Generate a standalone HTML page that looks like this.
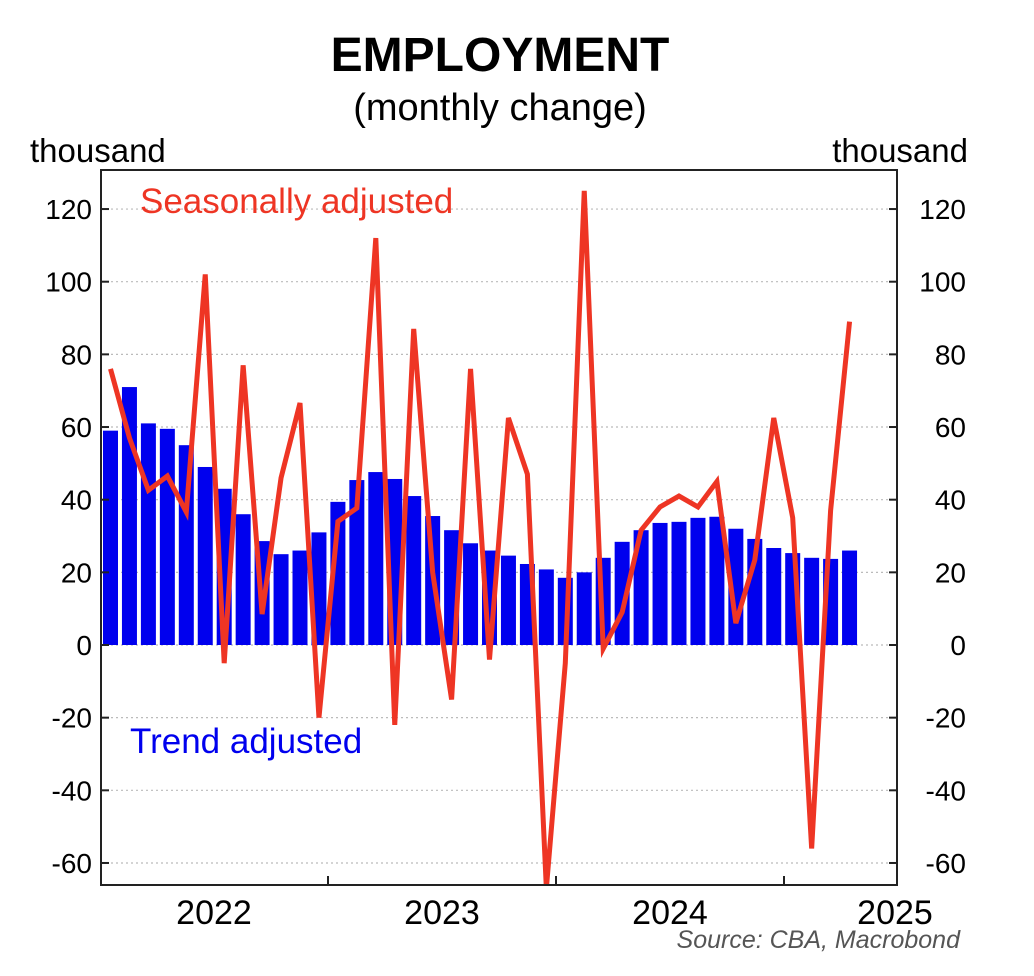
<!DOCTYPE html>
<html><head><meta charset="utf-8"><style>
body{margin:0;background:#fff;}
svg{display:block;font-family:"Liberation Sans",Arial,sans-serif;}
</style></head><body>
<svg id="c" width="1034" height="976" viewBox="0 0 1034 976">
<text x="500" y="71" font-size="48" font-weight="bold" text-anchor="middle" fill="#000">EMPLOYMENT</text>
<text x="500" y="120" font-size="38" text-anchor="middle" fill="#000">(monthly change)</text>
<text x="30" y="162" font-size="33" fill="#000">thousand</text>
<text x="968" y="162" font-size="33" text-anchor="end" fill="#000">thousand</text>
<g id="grid"></g>
<g id="bars" fill="#0000ee"></g>
<polyline id="line" fill="none" stroke="#ee3524" stroke-width="5" stroke-linejoin="miter"/>
<rect x="0" y="886" width="1034" height="90" fill="#fff"/>
<rect x="101" y="170" width="796" height="715" fill="none" stroke="#222" stroke-width="2"/>
<g id="ax" font-size="28" fill="#000"></g>
<text x="140" y="213" font-size="35" fill="#ee3524">Seasonally adjusted</text>
<text x="130" y="753" font-size="35" fill="#0000ee">Trend adjusted</text>
<text x="214" y="924" font-size="34" text-anchor="middle">2022</text>
<text x="442" y="924" font-size="34" text-anchor="middle">2023</text>
<text x="670" y="924" font-size="34" text-anchor="middle">2024</text>
<text x="895" y="924" font-size="34" text-anchor="middle">2025</text>
<text x="960" y="948" font-size="25" font-style="italic" text-anchor="end" fill="#555">Source: CBA, Macrobond</text>
</svg>
<script>
var ns="http://www.w3.org/2000/svg";
function Y(v){return 645-v*3.633;}
function X(i){return 110.5+i*18.95;}
var bars=[59,71,61,59.5,55,49,43,36,28.6,25,26,31,39.4,45.4,47.6,45.7,41,35.5,31.6,28,26,24.6,22.3,20.8,18.5,20,24,28.4,31.6,33.6,33.9,35,35.3,32,29.2,26.7,25.3,24,23.7,26];
var line=[76,57,42.6,46.5,36.6,102,-5,77,8.5,46,66.6,-20,34,37.7,112,-22,87,20,-15,76,-4,62.5,47,-67,-5,125,-1,9,31.6,38,41,38,45,6,23.4,62.5,35,-56,37,89];
var g=document.getElementById('grid'),ax=document.getElementById('ax'),b=document.getElementById('bars');
for(var v=-60;v<=120;v+=20){var y=Y(v);
var l=document.createElementNS(ns,'line');l.setAttribute('x1',101);l.setAttribute('x2',897);l.setAttribute('y1',y);l.setAttribute('y2',y);l.setAttribute('stroke','#bbb');l.setAttribute('stroke-width',1.2);l.setAttribute('stroke-dasharray','2,3');g.appendChild(l);
[[101,109],[889,897]].forEach(function(p){var t=document.createElementNS(ns,'line');t.setAttribute('x1',p[0]);t.setAttribute('x2',p[1]);t.setAttribute('y1',y);t.setAttribute('y2',y);t.setAttribute('stroke','#222');t.setAttribute('stroke-width',2);ax.appendChild(t);});
var s=document.createElementNS(ns,'text');s.setAttribute('x',92);s.setAttribute('y',y+10);s.setAttribute('text-anchor','end');s.textContent=v;ax.appendChild(s);
var s2=document.createElementNS(ns,'text');s2.setAttribute('x',966);s2.setAttribute('y',y+10);s2.setAttribute('text-anchor','end');s2.textContent=v;ax.appendChild(s2);}
[328,556,784].forEach(function(x){var t=document.createElementNS(ns,'line');t.setAttribute('x1',x);t.setAttribute('x2',x);t.setAttribute('y1',876);t.setAttribute('y2',885);t.setAttribute('stroke','#222');t.setAttribute('stroke-width',2);ax.appendChild(t);});
bars.forEach(function(v,i){var r=document.createElementNS(ns,'rect');r.setAttribute('x',X(i)-7.5);r.setAttribute('width',15);r.setAttribute('y',Y(v));r.setAttribute('height',645-Y(v));b.appendChild(r);});
document.getElementById('line').setAttribute('points',line.map(function(v,i){return X(i)+','+Y(v);}).join(' '));
</script>
</body></html>
